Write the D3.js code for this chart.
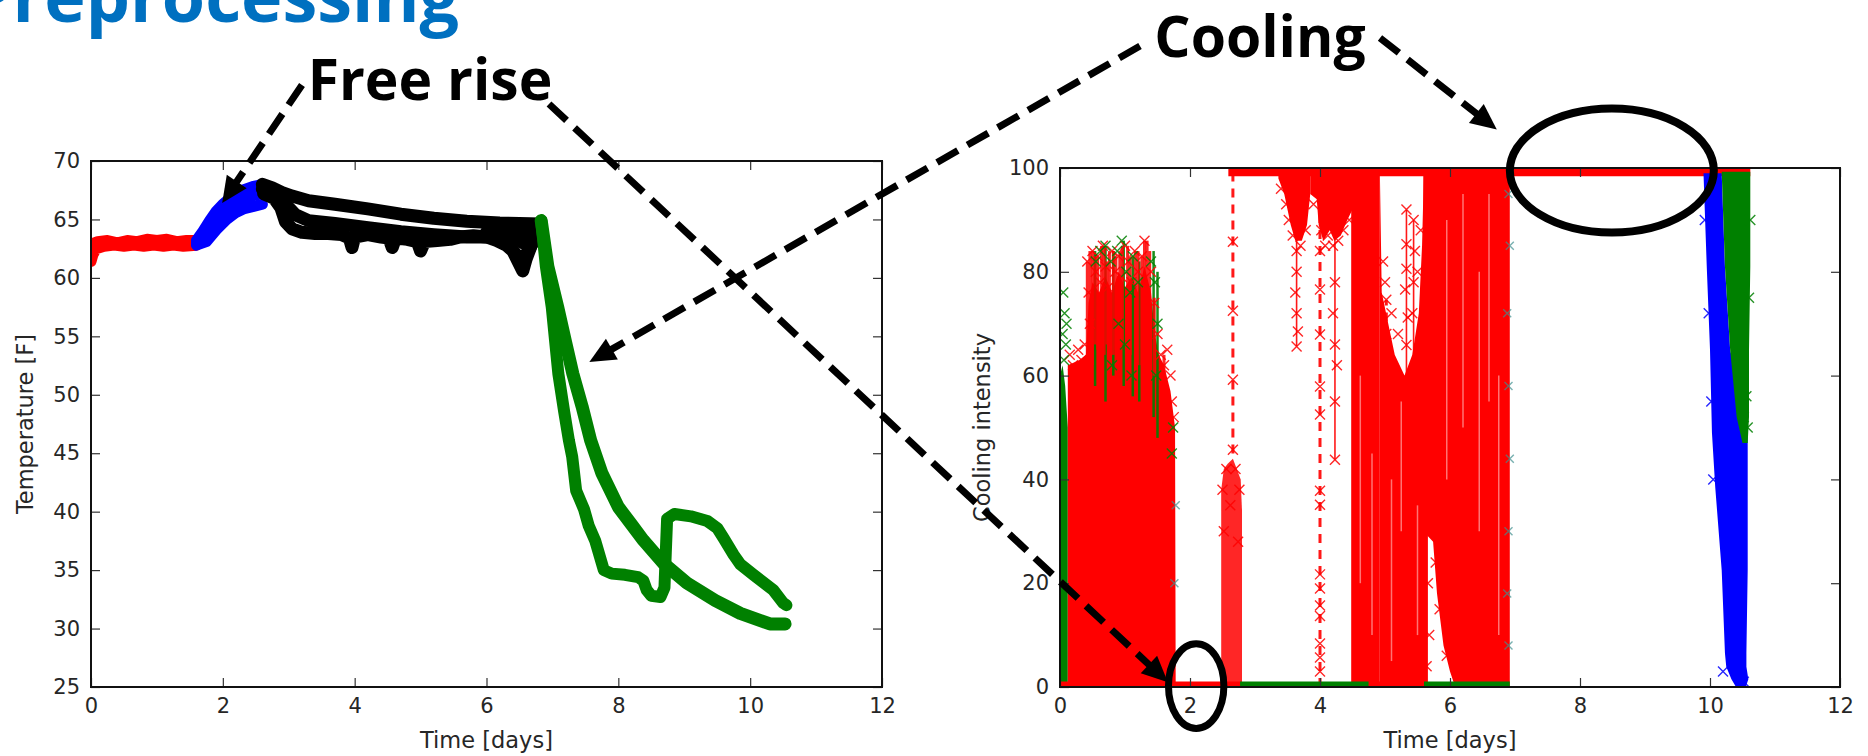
<!DOCTYPE html>
<html>
<head>
<meta charset="utf-8">
<title>Preprocessing</title>
<script src="https://d3js.org/d3.v7.min.js"></script>
<style>
body {
  margin: 0;
  padding: 0;
  background: white;
  overflow: hidden;
}
.tick text {
  font-family: "DejaVu Sans", sans-serif;
  font-size: 21px;
  fill: #262626;
}
.tick line {
  stroke: #333;
  stroke-width: 1.2;
}
.axlabel {
  font-family: "DejaVu Sans", sans-serif;
  font-size: 22.5px;
  fill: #262626;
}
.note {
  font-family: "Open Sans", "Liberation Sans", sans-serif;
  font-weight: bold;
}
</style>
</head>
<body>
<svg id="chart" width="1868" height="756"></svg>
<script>

//1. data - left plot: [time in days, temperature F]
var redTemp1 = [[0,62.9],[0.1,63.1],[0.25,63.2],[0.4,63.0],[0.55,63.2],[0.7,63.1],[0.85,63.3],[1.0,63.2],[1.15,63.3],[1.3,63.1],[1.45,63.2],[1.6,63.2]];
var redTemp2 = [[0,61.4],[0.03,62.0],[0.08,62.5],[0.2,62.7],[0.35,62.8],[0.5,62.7],[0.65,62.8],[0.8,62.7],[0.95,62.8],[1.1,62.7],[1.25,62.8],[1.4,62.7],[1.6,62.8]];
var blueTemp1 = [[1.6,63.2],[1.7,64.0],[1.8,64.9],[1.9,65.7],[2.0,66.3],[2.15,67.0],[2.3,67.5],[2.45,67.8],[2.6,68.0]];
var blueTemp2 = [[1.6,62.8],[1.75,63.1],[1.9,64.1],[2.06,65.0],[2.2,65.6],[2.31,65.9],[2.45,66.1],[2.6,66.3]];
var blueTemp3 = [[1.6,63.0],[1.75,63.6],[1.9,64.9],[2.05,65.7],[2.2,66.3],[2.35,66.8],[2.5,67.1],[2.6,67.2]];
var blackTemp1 = [[2.6,68.0],[2.75,67.7],[2.9,67.3],[3.05,67.0],[3.3,66.6],[3.7,66.3],[4.2,65.9],[4.7,65.45],[5.2,65.1],[5.7,64.85],[6.2,64.7],[6.5,64.65],[6.82,64.6]];
var blackTemp2 = [[2.6,67.6],[2.8,67.1],[2.95,66.3],[3.1,65.4],[3.3,64.9],[3.7,64.65],[4.2,64.3],[4.7,63.95],[5.2,63.7],[5.7,63.5],[6.0,63.5],[6.3,63.7],[6.6,64.0],[6.82,64.3]];
var blackTemp3 = [[2.62,67.2],[2.78,66.8],[2.88,66.0],[2.95,64.8],[3.05,64.2],[3.2,63.9],[3.4,63.8],[3.6,63.8],[3.8,63.7],[3.92,63.4],[3.96,62.6],[4.0,63.5],[4.2,63.7],[4.4,63.5],[4.52,63.4],[4.57,62.6],[4.62,63.4],[4.8,63.3],[4.95,63.1],[5.0,62.3],[5.06,63.1],[5.25,63.2],[5.45,63.3],[5.6,63.5],[5.8,63.6],[6.0,63.5],[6.15,63.2],[6.3,62.8],[6.4,62.3],[6.48,61.4],[6.55,60.6],[6.6,61.6],[6.68,62.8],[6.75,63.6],[6.82,64.4]];
var blackTemp4 = [[6.0,63.9],[6.2,63.4],[6.35,62.7],[6.45,62.0],[6.55,61.4],[6.62,62.2],[6.72,63.2],[6.82,64.2]];
var blackTemp5 = [[6.2,64.2],[6.4,63.6],[6.55,63.0],[6.7,63.6],[6.82,64.5]];
var greenTemp1 = [[6.83,64.9],[6.9,61],[6.99,57.5],[7.09,51.8],[7.18,48.5],[7.25,46.1],[7.3,44.7],[7.36,41.8],[7.42,41.0],[7.48,40.2],[7.55,38.8],[7.65,37.5],[7.78,35.0],[7.9,34.7],[8.1,34.6],[8.3,34.4],[8.38,34.1],[8.43,33.3],[8.5,32.8],[8.64,32.7],[8.7,33.5],[8.72,36.5],[8.74,39.4],[8.85,39.8],[9.1,39.6],[9.35,39.2],[9.5,38.6],[9.6,37.7],[9.75,36.3],[9.85,35.5],[10.05,34.6],[10.35,33.3],[10.5,32.2],[10.55,32.0]];
var greenTemp2 = [[6.83,64.9],[6.93,61],[7.08,57.5],[7.2,54.5],[7.31,51.8],[7.45,49],[7.58,46.1],[7.75,43.3],[8.0,40.4],[8.2,38.9],[8.38,37.55],[8.68,35.6],[9.04,33.9],[9.47,32.4],[9.85,31.3],[10.3,30.4],[10.53,30.4]];

//2. data - right plot: cooling intensity, bands as [day, low, high]
var greenEdge = [[0,0,60],[0.04,0,62],[0.08,0,58],[0.12,0,50]];
var redBlock = [[0.12,0,62],[0.3,0,63],[0.4,0,64],[0.44,0,74],[0.5,0,78],[0.6,0,76],[0.7,0,79],[0.8,0,76],[0.9,0,80],[1.0,0,77],[1.1,0,79],[1.2,0,76],[1.3,0,81],[1.4,0,76],[1.46,0,68],[1.52,0,64],[1.6,0,62],[1.7,0,57],[1.77,0,50],[1.78,0,0]];
var redStripe = [[2.48,0,38],[2.52,0,42],[2.58,0,43],[2.66,0,44],[2.72,0,42],[2.78,0,40],[2.8,0,34]];
var redTop1 = [[3.36,98,100],[3.45,95,100],[3.55,89,100],[3.62,86,100],[3.72,86,100],[3.8,89,100],[3.85,95,100]];
var redTop2 = [[3.85,95,100],[3.95,94,100],[3.98,89,100],[4.05,86,100],[4.15,88,100],[4.22,86,100],[4.32,87,100],[4.42,90,100],[4.5,92,100]];
var redColumn1 = [[4.48,0,100],[4.92,0,100]];
var redColumn2 = [[4.92,0,100],[4.95,0,76],[5.05,0,70],[5.15,0,64],[5.3,0,60],[5.42,0,64],[5.52,0,72],[5.57,0,85],[5.6,0,100],[5.66,0,100]];
var redColumn3 = [[5.59,30,100],[5.74,28,100],[5.8,18,100],[5.9,8,100],[6.0,3,100],[6.08,0,100],[6.92,0,100]];
// columns at the end: [intensity, left day, right day]
var blueColumn = [[99,9.9,10.18],[81,9.95,10.23],[65,10.0,10.31],[49,10.03,10.58],[38.6,10.08,10.58],[22.5,10.18,10.58],[6.5,10.23,10.56],[3.9,10.25,10.56],[1.5,10.33,10.59],[0,10.4,10.55]];
var greenColumn = [[99.3,10.18,10.62],[81,10.23,10.62],[65,10.31,10.6],[52,10.41,10.6],[47,10.5,10.58]];
// flat runs: [from day, to day, intensity]
var redFlat = [[2.59,10.62,99.2],[0,2.77,0.5],[4.75,5.6,0.5]];
var greenFlat = [[2.77,4.75,0.5],[5.6,6.92,0.5]];
// vertical runs: [day, low, high]
var dashedDrops = [[2.66,45,99],[4.0,0,99],[5.02,55,74.6]];
var solidDrops = [[3.64,65.6,90],[4.23,43.8,87],[5.33,60,92],[5.44,62,90]];
var redStrands = [[0.42,60,82],[0.46,64,84],[0.5,62,84],[0.54,66,83],[0.58,65,83],[0.64,60,85],[0.68,64,85],[0.72,66,82],[0.76,62,84],[0.82,64,84],[0.86,65,83],[0.92,66,84],[0.96,66,85],[1.04,62,85],[1.08,64,83],[1.16,60,84],[1.2,62,84],[1.26,62,83],[1.3,66,86],[1.34,65,86],[1.38,64,84],[1.45,60,75],[1.6,55,64]];
var greenStrands = [[0.54,58,84],[0.7,55,85],[0.82,60,84],[0.98,58,86],[1.12,56,83],[1.22,55,82],[1.44,52,84],[1.5,48,80]];
var lightStreaks = [[4.62,20,60],[4.8,10,45],[5.1,5,40],[5.25,30,55],[5.5,10,35],[5.95,40,90],[6.2,50,95],[6.45,30,80],[6.6,55,95],[6.75,10,60]];
// single x markers: [day, intensity]
var redMarks = [[0.15,64],[0.2,62],[0.28,65],[0.33,63],[0.38,66],[0.42,82],[0.44,76],[0.46,70],[0.5,84],[0.55,80],[0.58,83],[0.62,78],[0.66,85],[0.7,81],[0.74,77],[0.8,84],[0.85,80],[0.9,83],[0.95,79],[1.0,85],[1.05,82],[1.1,78],[1.15,84],[1.2,80],[1.26,83],[1.3,86],[1.4,80],[1.45,74],[1.5,68],[1.55,64],[1.6,62],[1.65,65],[1.7,60],[1.72,55],[1.75,52],
  [2.5,38],[2.56,42],[2.62,35],[2.7,42],[2.76,38],[2.52,30],[2.74,28],
  [2.66,85.8],[2.66,72.5],[2.66,59.2],[2.66,45.7],
  [3.64,84],[3.64,80],[3.62,76],[3.64,72],[3.66,68.5],[3.64,65.6],
  [3.4,96],[3.48,93],[3.52,90],[3.58,87],[3.7,85],[3.78,88],[3.9,93],[4.02,88],[4.08,85],[4.12,87],[4.2,85],[4.28,86],[4.36,88],[4.45,90],
  [4.0,84],[4.0,76.6],[4.0,67.9],[4.0,57.9],[4.0,52.5],[4.0,37.8],[4.0,35.1],[4.0,21.7],[4.0,19],[4.0,15.7],[4.0,13.7],[4.0,8.4],[4.0,5.7],[4.0,3],
  [4.23,78],[4.23,66],[4.23,55],[4.23,43.8],[4.2,72],[4.26,62],
  [5.02,74.6],[5.02,68],[5.02,62],[5.33,92],[5.33,85.3],[5.33,80.6],[5.31,76.6],[5.35,71.2],[5.33,65.9],[5.44,90],[5.46,84],[5.44,78],[5.42,72],[5.0,78],[4.97,82],[5.1,72],[5.2,68],[5.55,88],[5.5,80],
  [5.7,30],[5.78,24],[5.84,15],[5.95,6],[5.66,20],[5.68,10],[5.64,4]];
var greenMarks = [[0.05,76],[0.07,72],[0.04,68],[0.09,66],[0.06,63],[0.1,70],[0.55,82],[0.62,84],[0.7,85],[0.78,82],[0.88,84],[0.95,86],[1.02,80],[1.08,76],[1.12,83],[1.2,78],[1.4,82],[1.46,78],[1.5,70],[1.48,60],[1.72,45],[1.74,50],[0.9,70],[1.0,66],[1.1,60],[0.8,62],
  [10.44,64],[10.5,60],[10.56,56],[10.58,50],[10.52,52],[10.62,90],[10.6,75]];
var blueMarks = [[10.05,40],[10.02,55],[9.98,72],[9.92,90],[10.2,3],[10.45,0.5],[10.52,1]];
var tealMarks = [[6.9,95],[6.92,85],[6.88,72],[6.9,58],[6.92,44],[6.9,30],[6.88,18],[6.9,8],[1.76,20],[1.78,35]];

//3. ticks and labels
var dayTicks = [0,2,4,6,8,10,12];
var tempTicks = [25,30,35,40,45,50,55,60,65,70];
var coolTicks = [0,20,40,60,80,100];

//4. annotation targets, in data units of each plot
var freeRiseTip = [1.99,66.4];
var coolingTipLeft = [7.56,52.8];
var smallRingAt = [2.095,0.17];
var bigRingAt = [8.49,99.5];
var arrowToRing = [1.66,0.9];
var arrowToBigRing = [6.72,107.4];

//5. scales
var svg = d3.select("#chart");
var xT = d3.scaleLinear().domain([0,12]).range([91,882]);
var yT = d3.scaleLinear().domain([25,70]).range([687,161]);
var xC = d3.scaleLinear().domain([0,12]).range([1060,1840]);
var yC = d3.scaleLinear().domain([0,100]).range([687,168]);

svg.append("rect").attr("width",1868).attr("height",756).attr("fill","white");

var defs = svg.append("defs");
defs.append("clipPath").attr("id","clipT").append("rect")
  .attr("x",xT(0)).attr("y",yT(70)).attr("width",xT(12)-xT(0)).attr("height",yT(25)-yT(70));
defs.append("clipPath").attr("id","clipC").append("rect")
  .attr("x",xC(0)).attr("y",yC(100)).attr("width",xC(12)-xC(0)).attr("height",yC(0)-yC(100));

//6. left plot lines
var tLine = d3.line().x(function(d){return xT(d[0]);}).y(function(d){return yT(d[1]);});
var gT = svg.append("g").attr("clip-path","url(#clipT)");
var tempSeries = [
  [redTemp1,"#ff0000",11],[redTemp2,"#ff0000",11],
  [blueTemp1,"#0000ff",11],[blueTemp2,"#0000ff",11],[blueTemp3,"#0000ff",11],
  [blackTemp3,"#000",13],[blackTemp4,"#000",13],[blackTemp5,"#000",13],[blackTemp2,"#000",13],[blackTemp1,"#000",13],
  [greenTemp2,"#008000",13],[greenTemp1,"#008000",12]
];
gT.selectAll("path").data(tempSeries).enter().append("path")
  .attr("d",function(d){return tLine(d[0]);})
  .attr("fill","none")
  .attr("stroke",function(d){return d[1];})
  .attr("stroke-width",function(d){return d[2];})
  .attr("stroke-linejoin","round")
  .attr("stroke-linecap","round");

//7. right plot
var gC = svg.append("g").attr("clip-path","url(#clipC)");
var band = d3.area().x(function(d){return xC(d[0]);}).y0(function(d){return yC(d[1]);}).y1(function(d){return yC(d[2]);});
var colBand = d3.area().y(function(d){return yC(d[0]);}).x0(function(d){return xC(d[1]);}).x1(function(d){return xC(d[2]);});

function drawBand(data, color, op) {
  gC.append("path").attr("d",band(data)).attr("fill",color).attr("fill-opacity",op);
}
function drawVert(data, color, w, dash, op) {
  gC.append("g").selectAll("line").data(data).enter().append("line")
    .attr("x1",function(d){return xC(d[0]);}).attr("x2",function(d){return xC(d[0]);})
    .attr("y1",function(d){return yC(d[1]);}).attr("y2",function(d){return yC(d[2]);})
    .attr("stroke",color).attr("stroke-width",w).attr("opacity",op)
    .attr("stroke-dasharray",dash);
}
function drawMarks(data, color, s, op) {
  gC.append("g").selectAll("path").data(data).enter().append("path")
    .attr("d",function(d){
      var x = xC(d[0]), y = yC(d[1]);
      return "M"+(x-s)+","+(y-s)+"L"+(x+s)+","+(y+s)+"M"+(x-s)+","+(y+s)+"L"+(x+s)+","+(y-s);
    })
    .attr("fill","none").attr("stroke",color).attr("stroke-width",1.4).attr("opacity",op);
}

drawBand(greenEdge,"#008000",1);
drawBand(redBlock,"#ff0000",1);
drawVert(greenStrands,"#008000",2.5,null,0.9);
drawVert(redStrands,"#ff0000",3,null,0.85);
drawBand(redStripe,"#ff0000",0.85);
drawBand(redTop1,"#ff0000",1);
drawBand(redTop2,"#ff0000",1);
drawBand(redColumn1,"#ff0000",1);
drawBand(redColumn2,"#ff0000",1);
drawBand(redColumn3,"#ff0000",1);
drawVert(lightStreaks,"#ffffff",1.5,null,0.45);
drawVert(dashedDrops,"#ff0000",3,"9,7",0.9);
drawVert(solidDrops,"#ff0000",1.6,null,0.9);

gC.append("g").selectAll("line").data(greenFlat).enter().append("line")
  .attr("x1",function(d){return xC(d[0]);}).attr("x2",function(d){return xC(d[1]);})
  .attr("y1",function(d){return yC(d[2]);}).attr("y2",function(d){return yC(d[2]);})
  .attr("stroke","#008000").attr("stroke-width",6);
gC.append("g").selectAll("line").data(redFlat).enter().append("line")
  .attr("x1",function(d){return xC(d[0]);}).attr("x2",function(d){return xC(d[1]);})
  .attr("y1",function(d){return yC(d[2]);}).attr("y2",function(d){return yC(d[2]);})
  .attr("stroke","#ff0000").attr("stroke-width",function(d,i){return i==0 ? 8 : 6;});

gC.append("path").attr("d",colBand(blueColumn)).attr("fill","#0000ff");
gC.append("path").attr("d",colBand(greenColumn)).attr("fill","#008000");

drawMarks(redMarks,"#ff0000",5,0.85);
drawMarks(greenMarks,"#008000",5,0.85);
drawMarks(blueMarks,"#0000ff",5,0.85);
drawMarks(tealMarks,"#3f8f8f",4,0.7);

//8. axes, ticks inside on all four sides
function frame(x, y, yTicks) {
  var g = svg.append("g");
  var b = y.range()[0], t = y.range()[1], l = x.range()[0], r = x.range()[1];
  g.append("g").attr("transform","translate(0,"+b+")")
    .call(d3.axisBottom(x).tickValues(dayTicks).tickSizeInner(-9).tickSizeOuter(0).tickPadding(11));
  g.append("g").attr("transform","translate(0,"+t+")")
    .call(d3.axisTop(x).tickValues(dayTicks).tickSizeInner(-9).tickSizeOuter(0).tickFormat(""));
  g.append("g").attr("transform","translate("+l+",0)")
    .call(d3.axisLeft(y).tickValues(yTicks).tickSizeInner(-9).tickSizeOuter(0).tickPadding(11));
  g.append("g").attr("transform","translate("+r+",0)")
    .call(d3.axisRight(y).tickValues(yTicks).tickSizeInner(-9).tickSizeOuter(0).tickFormat(""));
  g.selectAll(".domain").remove();
  g.append("rect").attr("x",l).attr("y",t).attr("width",r-l).attr("height",b-t)
    .attr("fill","none").attr("stroke","#111").attr("stroke-width",2);
  return g;
}
frame(xT, yT, tempTicks);
frame(xC, yC, coolTicks);

svg.append("text").attr("class","axlabel").attr("x",(xT(0)+xT(12))/2).attr("y",748)
  .attr("text-anchor","middle").text("Time [days]");
svg.append("text").attr("class","axlabel").attr("x",(xC(0)+xC(12))/2).attr("y",748)
  .attr("text-anchor","middle").text("Time [days]");
svg.append("text").attr("class","axlabel").attr("text-anchor","middle")
  .attr("transform","translate(33,"+((yT(25)+yT(70))/2)+") rotate(-90)").text("Temperature [F]");
svg.append("text").attr("class","axlabel").attr("text-anchor","middle")
  .attr("transform","translate(990,"+((yC(0)+yC(100))/2)+") rotate(-90)").text("Cooling intensity");

//9. slide annotations
var ann = svg.append("g");
ann.append("text").attr("class","note").attr("x",459).attr("y",22)
  .attr("text-anchor","end").attr("font-size",70).attr("fill","#0070C0").text("Preprocessing");
ann.append("text").attr("class","note").attr("x",430).attr("y",100)
  .attr("text-anchor","middle").attr("font-size",57).attr("fill","#000").text("Free rise");
ann.append("text").attr("class","note").attr("x",1260).attr("y",57)
  .attr("text-anchor","middle").attr("font-size",57).attr("fill","#000").text("Cooling");

ann.append("ellipse").attr("cx",xC(smallRingAt[0])).attr("cy",yC(smallRingAt[1]))
  .attr("rx",27.7).attr("ry",42.3).attr("fill","none").attr("stroke","#000").attr("stroke-width",7);
ann.append("ellipse").attr("cx",xC(bigRingAt[0])).attr("cy",yC(bigRingAt[1]))
  .attr("rx",102).attr("ry",62).attr("fill","none").attr("stroke","#000").attr("stroke-width",8);

function arrow(x1, y1, x2, y2) {
  var dx = x2-x1, dy = y2-y1, len = Math.sqrt(dx*dx+dy*dy), ux = dx/len, uy = dy/len;
  var hl = 26, hw = 12;
  var bx = x2-ux*hl, by = y2-uy*hl;
  ann.append("line").attr("x1",x1).attr("y1",y1).attr("x2",bx+ux*2).attr("y2",by+uy*2)
    .attr("stroke","#000").attr("stroke-width",7).attr("stroke-dasharray","24,11");
  ann.append("path")
    .attr("d","M"+x2+","+y2+"L"+(bx-uy*hw)+","+(by+ux*hw)+"L"+(bx+uy*hw)+","+(by-ux*hw)+"Z")
    .attr("fill","#000");
}
arrow(302,85, xT(freeRiseTip[0]), yT(freeRiseTip[1]));
arrow(549,104, xC(arrowToRing[0]), yC(arrowToRing[1]));
arrow(1140,46, xT(coolingTipLeft[0]), yT(coolingTipLeft[1]));
arrow(1380,38, xC(arrowToBigRing[0]), yC(arrowToBigRing[1]));

</script>
</body>
</html>
